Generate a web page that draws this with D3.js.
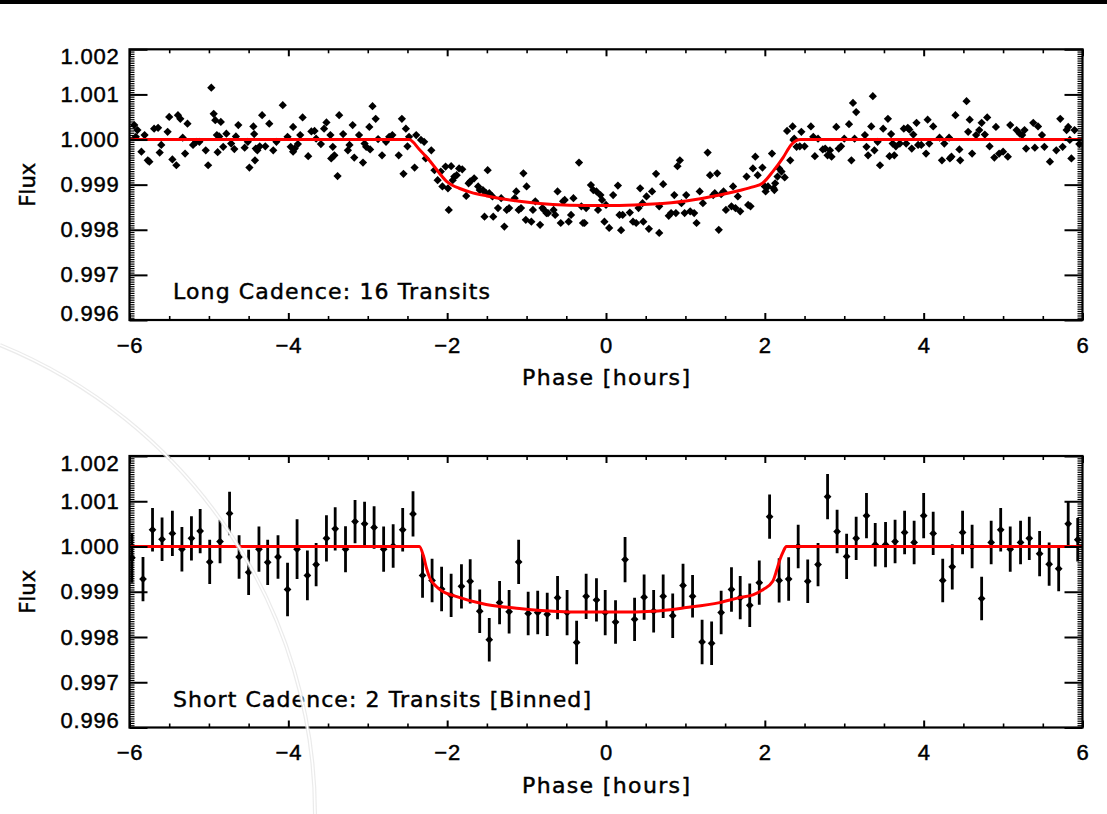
<!DOCTYPE html>
<html>
<head>
<meta charset="utf-8">
<script src="https://cdn.jsdelivr.net/npm/d3@7"></script>
<style>
  html, body { margin: 0; padding: 0; background: #fff; }
  svg { display: block; font-family: "DejaVu Sans", sans-serif; }
</style>
</head>
<body>
<svg id="chart" width="1107" height="814"></svg>
<script>
// Long cadence, phase-folded (16 transits)
const longPhase = [
  -5.94,-5.90,-5.92,-5.85,-5.81,-5.77,-5.75,-5.69,-5.64,-5.62,
  -5.60,-5.52,-5.50,-5.46,-5.41,-5.39,-5.36,-5.33,-5.30,-5.27,
  -5.20,-5.16,-5.12,-5.04,-5.01,-4.97,-4.94,-4.92,-4.90,-4.89,
  -4.87,-4.85,-4.82,-4.78,-4.72,-4.68,-4.66,-4.63,-4.55,-4.51,
  -4.49,-4.44,-4.43,-4.42,-4.41,-4.39,-4.36,-4.33,-4.29,-4.24,
  -4.19,-4.15,-4.07,-4.01,-3.97,-3.94,-3.94,-3.92,-3.88,-3.85,
  -3.82,-3.75,-3.71,-3.67,-3.65,-3.59,-3.55,-3.52,-3.47,-3.46,
  -3.44,-3.42,-3.38,-3.36,-3.31,-3.25,-3.23,-3.19,-3.17,-3.11,
  -3.06,-3.04,-3.02,-2.98,-2.97,-2.94,-2.90,-2.87,-2.82,-2.77,
  -2.73,-2.69,-2.61,-2.57,-2.55,-2.52,-2.50,-2.48,-2.41,-2.39,
  -2.33,-2.29,-2.27,-2.20,-2.16,-2.12,-2.08,-2.06,-2.02,-1.99,
  -1.98,-1.95,-1.93,-1.91,-1.88,-1.85,-1.81,-1.76,-1.73,-1.71,
  -1.66,-1.61,-1.59,-1.55,-1.53,-1.51,-1.49,-1.47,-1.43,-1.42,
  -1.36,-1.32,-1.28,-1.25,-1.22,-1.15,-1.13,-1.10,-1.07,-1.04,
  -1.01,-1.00,-0.94,-0.92,-0.89,-0.83,-0.80,-0.78,-0.75,-0.73,
  -0.66,-0.64,-0.61,-0.57,-0.54,-0.52,-0.47,-0.44,-0.41,-0.34,
  -0.31,-0.29,-0.27,-0.25,-0.19,-0.16,-0.12,-0.10,-0.07,-0.05,
  -0.02, 0.00, 0.04, 0.09, 0.15, 0.17, 0.19, 0.21, 0.30, 0.34,
   0.38, 0.41, 0.43, 0.46, 0.47, 0.51, 0.54, 0.58, 0.63, 0.67,
   0.67, 0.72, 0.79, 0.82, 0.86, 0.88, 0.90, 0.93, 0.95, 0.99,
   1.01, 1.06, 1.11, 1.14, 1.18, 1.22, 1.28, 1.31, 1.35, 1.37,
   1.40, 1.42, 1.45, 1.48, 1.51, 1.58, 1.60, 1.63, 1.66, 1.69,
   1.77, 1.79, 1.82, 1.85, 1.88, 1.91,
   1.97, 2.00, 2.01, 2.04, 2.09, 2.11, 2.12, 2.13, 2.16, 2.18,
   2.21, 2.25, 2.28, 2.32, 2.35, 2.36, 2.37, 2.40, 2.44, 2.46,
   2.50, 2.58, 2.61, 2.63, 2.67, 2.73, 2.76, 2.79, 2.82, 2.84,
   2.90, 2.93, 2.96, 3.00, 3.06, 3.09, 3.11, 3.13, 3.15, 3.26,
   3.28, 3.30, 3.34, 3.36, 3.38, 3.42, 3.45, 3.49, 3.55, 3.57,
   3.59, 3.61, 3.63, 3.65, 3.70, 3.75, 3.78, 3.80, 3.82, 3.85,
   3.87, 3.91, 3.93, 3.97, 4.03, 4.05, 4.07, 4.12, 4.20, 4.23,
   4.26, 4.32, 4.33, 4.35, 4.40, 4.45, 4.46, 4.54, 4.56, 4.58,
   4.61, 4.66, 4.70, 4.73, 4.77, 4.80, 4.83, 4.89, 4.91, 4.95,
   5.00, 5.06, 5.09, 5.17, 5.21, 5.24, 5.27, 5.29, 5.38, 5.40,
   5.44, 5.49, 5.52, 5.59, 5.67, 5.72, 5.75, 5.80, 5.82, 5.84,
   5.86, 5.90, 5.96
];
const longFlux = [
  1.00032,1.00021,1.00006,0.99973,1.00010,0.99954,0.99951,1.00024,1.00026,0.99971,
  0.99988,1.00017,1.00050,0.99956,0.99943,1.00054,1.00046,1.00004,0.99969,1.00035,
  0.99988,0.99995,0.99995,0.99976,0.99943,1.00115,1.00057,1.00043,1.00010,0.99972,
  1.00007,1.00039,0.99984,1.00013,0.99991,0.99979,1.00007,1.00032,0.99982,0.99995,
  0.99938,1.00029,1.00012,0.99954,0.99980,0.99976,0.99985,1.00054,0.99985,1.00035,
  0.99976,0.99995,1.00076,1.00006,0.99984,1.00028,0.99973,0.99980,0.99990,1.00010,
  1.00049,0.99963,1.00018,1.00019,1.00002,0.99990,1.00024,1.00038,1.00010,0.99958,
  0.99984,0.99965,0.99919,1.00054,1.00012,0.99976,0.99988,1.00032,0.99960,1.00010,
  0.99949,0.99991,0.99984,1.00028,0.99978,1.00074,1.00046,1.00001,0.99965,0.99995,
  1.00006,1.00010,0.99965,1.00046,0.99924,1.00024,0.99985,1.00006,0.99938,1.00010,
  0.99999,0.99995,0.99958,0.99976,0.99932,0.99910,0.99929,0.99896,0.99940,0.99892,
  0.99844,0.99941,0.99910,0.99918,0.99921,0.99936,0.99934,0.99875,0.99903,0.99907,
  0.99914,0.99896,0.99888,0.99888,0.99829,0.99881,0.99932,0.99881,0.99874,0.99829,
  0.99848,0.99870,0.99807,0.99844,0.99848,0.99870,0.99885,0.99844,0.99848,0.99925,
  0.99822,0.99896,0.99818,0.99844,0.99863,0.99811,0.99848,0.99844,0.99837,0.99837,
  0.99844,0.99833,0.99885,0.99815,0.99863,0.99866,0.99818,0.99833,0.99870,0.99949,
  0.99852,0.99815,0.99815,0.99848,0.99899,0.99888,0.99885,0.99844,0.99877,0.99866,
  0.99818,0.99855,0.99804,0.99877,0.99898,0.99833,0.99799,0.99833,0.99838,0.99818,
  0.99815,0.99848,0.99892,0.99859,0.99818,0.99874,0.99802,0.99885,0.99924,0.99852,
  0.99793,0.99901,0.99831,0.99837,0.99877,0.99837,0.99941,0.99954,0.99859,0.99837,
  0.99877,0.99841,0.99837,0.99815,0.99885,0.99859,0.99971,0.99921,0.99877,0.99881,
  0.99925,0.99800,0.99879,0.99885,0.99844,0.99852,0.99896,0.99848,0.99874,0.99841,
  0.99918,0.99855,0.99852,0.99936,0.99962,0.99921,
  0.99938,0.99896,0.99885,0.99896,0.99969,0.99892,0.99888,0.99903,0.99918,0.99936,
  0.99929,0.99916,1.00019,0.99954,1.00029,0.99999,1.00002,0.99984,0.99985,1.00017,
  0.99985,1.00029,1.00006,0.99963,1.00002,0.99978,0.99980,0.99965,0.99976,0.99962,
  1.00028,0.99980,0.99985,1.00002,1.00034,0.99954,1.00081,1.00002,1.00061,1.00010,
  0.99984,0.99965,1.00029,1.00096,0.99976,0.99995,0.99943,1.00024,1.00046,0.99963,
  1.00012,0.99991,0.99965,0.99985,0.99991,1.00024,0.99991,1.00026,1.00022,0.99980,
  1.00011,1.00037,0.99988,0.99988,0.99969,1.00044,0.99991,1.00029,1.00004,0.99954,
  0.99991,1.00004,0.99958,0.99962,1.00054,0.99978,0.99954,1.00085,1.00017,1.00044,
  0.99969,1.00010,1.00021,1.00037,1.00011,1.00049,0.99985,0.99960,1.00028,0.99969,
  0.99973,0.99962,1.00032,1.00021,1.00013,1.00010,1.00021,0.99980,1.00037,0.99982,
  1.00029,1.00010,0.99984,0.99951,0.99976,1.00046,0.99984,1.00021,1.00028,0.99999,
  0.99958,1.00021,0.99990
];
const longModelPhase = [-6, -2.48, -2.35, -2.22, -2.10, -2.00, -1.93, -1.85, -1.70, -1.50, -1.09, -0.67, -0.25, 0.17, 0.59, 1.01, 1.43, 1.68, 1.85, 1.97, 2.10, 2.23, 2.33, 2.40, 2.45, 6];
const longModelFlux  = [1, 1, 0.99978, 0.99953, 0.99926, 0.99906, 0.99898, 0.99892, 0.99883, 0.99875, 0.99863, 0.99856, 0.99854, 0.99854, 0.99857, 0.99864, 0.99877, 0.99887, 0.99895, 0.99903, 0.99929, 0.99960, 0.99988, 0.99998, 1, 1];

// Short cadence, binned (2 transits)
const shortPhase = [
  -5.97,-5.83,-5.71,-5.59,-5.46,-5.34,-5.22,-5.11,-4.99,-4.86,
  -4.74,-4.62,-4.50,-4.37,-4.26,-4.13,-4.01,-3.89,-3.76,-3.65,
  -3.52,-3.41,-3.28,-3.16,-3.04,-2.92,-2.80,-2.68,-2.56,-2.43,
  -2.31,-2.19,-2.07,-1.95,-1.82,-1.71,-1.59,-1.47,-1.34,-1.22,
  -1.10,-0.98,-0.86,-0.74,-0.61,-0.49,-0.37,-0.25,-0.12,-0.01,
   0.12, 0.24, 0.36, 0.48, 0.60, 0.72, 0.84, 0.97, 1.09, 1.21,
   1.33, 1.45, 1.58, 1.69, 1.81, 1.93, 2.06, 2.18, 2.30, 2.42,
   2.54, 2.67, 2.79, 2.91, 3.03, 3.15, 3.28, 3.39, 3.52, 3.64,
   3.76, 3.88, 4.00, 4.12, 4.24, 4.36, 4.49, 4.61, 4.73, 4.85,
   4.97, 5.09, 5.22, 5.33, 5.46, 5.58, 5.70, 5.82, 5.94
];
const shortFlux = [
  0.99975,0.99928,1.00037,1.00016,1.00029,0.99994,1.00018,1.00034,0.99966,1.00011,
  1.00073,0.99977,0.99943,0.99994,0.99965,0.99977,0.99905,0.99994,0.99936,0.99960,
  1.00018,1.00039,0.99994,1.00055,1.00050,1.00042,0.99994,1.00001,1.00037,1.00072,
  0.99936,0.99925,0.99906,0.99892,0.99912,0.99923,0.99857,0.99794,0.99876,0.99856,
  0.99966,0.99852,0.99854,0.99850,0.99887,0.99854,0.99788,0.99890,0.99882,0.99854,
  0.99833,0.99971,0.99839,0.99888,0.99857,0.99890,0.99847,0.99914,0.99890,0.99789,
  0.99786,0.99854,0.99905,0.99887,0.99870,0.99920,1.00066,0.99925,0.99928,1.00000,
  0.99923,0.99960,1.00110,1.00033,0.99978,1.00018,1.00068,1.00004,1.00004,1.00011,
  1.00031,1.00009,1.00068,1.00029,0.99925,0.99955,1.00031,1.00000,0.99885,1.00009,
  1.00037,0.99994,1.00009,1.00018,0.99984,0.99961,0.99951,1.00050,1.00015
];
const shortErr = [
  0.00055,0.00049,0.00048,0.00048,0.00050,0.00049,0.00049,0.00049,0.00049,0.00048,
  0.00048,0.00048,0.00050,0.00050,0.00050,0.00048,0.00059,0.00066,0.00055,0.00048,
  0.00051,0.00048,0.00051,0.00048,0.00049,0.00047,0.00050,0.00048,0.00048,0.00050,
  0.00049,0.00048,0.00049,0.00048,0.00049,0.00049,0.00048,0.00048,0.00048,0.00048,
  0.00049,0.00048,0.00048,0.00048,0.00048,0.00050,0.00048,0.00050,0.00048,0.00050,
  0.00048,0.00050,0.00048,0.00050,0.00047,0.00048,0.00049,0.00048,0.00047,0.00049,
  0.00048,0.00048,0.00049,0.00048,0.00048,0.00049,0.00049,0.00049,0.00048,0.00048,
  0.00048,0.00048,0.00050,0.00048,0.00050,0.00048,0.00050,0.00048,0.00050,0.00048,
  0.00048,0.00048,0.00050,0.00048,0.00048,0.00050,0.00048,0.00048,0.00048,0.00048,
  0.00048,0.00050,0.00048,0.00048,0.00050,0.00048,0.00050,0.00050,0.00048
];
const shortModelPhase = [-6, -2.35, -2.30, -2.26, -2.22, -2.14, -2.05, -1.93, -1.51, -1.09, -0.67, -0.25, 0.17, 0.59, 1.01, 1.43, 1.68, 1.85, 1.98, 2.10, 2.15, 2.19, 2.23, 2.27, 6];
const shortModelFlux  = [1, 1, 0.99980, 0.99952, 0.99931, 0.99912, 0.99900, 0.99892, 0.99872, 0.99863, 0.99857, 0.99855, 0.99855, 0.99857, 0.99865, 0.99876, 0.99887, 0.99893, 0.99905, 0.99923, 0.99948, 0.99971, 0.99988, 1, 1];

const xTicks = [-6, -4, -2, 0, 2, 4, 6];
const yTicks = [0.996, 0.997, 0.998, 0.999, 1.000, 1.001, 1.002];
const panelLabels = ["Long Cadence: 16 Transits", "Short Cadence: 2 Transits [Binned]"];
const xTitle = "Phase [hours]";
const yTitle = "Flux";

const svg = d3.select("#chart");
const plotLeft = 129.5, plotRight = 1082.5;

// black strip along the top edge
svg.append("rect").attr("x", 0).attr("y", 0).attr("width", 1107).attr("height", 4).attr("fill", "#000");

const x = d3.scaleLinear().domain([-6, 6]).range([plotLeft, plotRight]);
const xMinor = d3.range(-12, 13).map(i => i / 2).filter(v => !xTicks.includes(v));
const yMinor = d3.range(0, 121).map(i => Math.round((0.996 + i * 0.00005) * 1e6) / 1e6)
  .filter(v => !yTicks.some(t => Math.abs(t - v) < 1e-9));

const fmtX = d => d < 0 ? "\u2212" + (-d) : String(d);

// heavier-looking text, closer to the original plotting font
const inkText = sel => sel.attr("fill", "#000").attr("stroke", "#000").attr("stroke-width", 0.45);

const panels = [
  { top: 49.3, bottom: 320, label: panelLabels[0], textLen: 317,
    phase: longPhase, flux: longFlux, err: null, mPhase: longModelPhase, mFlux: longModelFlux },
  { top: 456, bottom: 727.5, label: panelLabels[1], textLen: 418,
    phase: shortPhase, flux: shortFlux, err: shortErr, mPhase: shortModelPhase, mFlux: shortModelFlux }
];

panels.forEach((p, k) => {
  const y = d3.scaleLinear().domain([0.996, 1.002]).range([p.bottom, p.top]);
  const g = svg.append("g");
  const clipId = "clip" + k;
  g.append("clipPath").attr("id", clipId).append("rect")
    .attr("x", plotLeft).attr("y", p.top)
    .attr("width", plotRight - plotLeft).attr("height", p.bottom - p.top);

  const plot = g.append("g").attr("clip-path", `url(#${clipId})`);

  // error bars
  if (p.err) {
    plot.selectAll(".err")
      .data(p.phase.map((v, i) => [v, p.flux[i], p.err[i]]))
      .enter().append("line")
      .attr("x1", d => x(d[0])).attr("x2", d => x(d[0]))
      .attr("y1", d => y(d[1] - d[2])).attr("y2", d => y(d[1] + d[2]))
      .attr("stroke", "#000").attr("stroke-width", 2.8);
  }

  // diamonds
  const sym = d3.symbol().type(d3.symbolSquare).size(p.err ? 30 : 34);
  plot.selectAll(".pt")
    .data(p.phase.map((v, i) => [v, p.flux[i]]))
    .enter().append("path")
    .attr("d", sym)
    .attr("transform", d => `translate(${x(d[0])},${y(d[1])}) rotate(45)`)
    .attr("fill", "#000");

  // model
  const line = d3.line().x(d => x(d[0])).y(d => y(d[1])).curve(d3.curveMonotoneX);
  plot.append("path")
    .datum(p.mPhase.map((v, i) => [v, p.mFlux[i]]))
    .attr("fill", "none").attr("stroke", "#ff0000").attr("stroke-width", 3)
    .attr("d", line);

  // axes (IDL style, ticks pointing in)
  const styleAxis = (sel, w) => {
    sel.select(".domain").remove();
    sel.selectAll(".tick line").attr("stroke-width", w);
    sel.selectAll("text").attr("font-size", 22).attr("letter-spacing", "0.8px").call(inkText);
  };
  g.append("g").attr("transform", `translate(0,${p.bottom})`)
    .call(d3.axisBottom(x).tickValues(xTicks).tickSize(-7).tickPadding(17).tickFormat(fmtX))
    .call(s => styleAxis(s, 2));
  g.append("g").attr("transform", `translate(0,${p.bottom})`)
    .call(d3.axisBottom(x).tickValues(xMinor).tickSize(-4).tickFormat(""))
    .call(s => styleAxis(s, 1.6));
  g.append("g").attr("transform", `translate(0,${p.top})`)
    .call(d3.axisTop(x).tickValues(xTicks).tickSize(-7).tickFormat(""))
    .call(s => styleAxis(s, 2));
  g.append("g").attr("transform", `translate(0,${p.top})`)
    .call(d3.axisTop(x).tickValues(xMinor).tickSize(-4).tickFormat(""))
    .call(s => styleAxis(s, 1.6));

  const yl = g.append("g").attr("transform", `translate(${plotLeft},0)`)
    .call(d3.axisLeft(y).tickValues(yTicks).tickSize(-18).tickPadding(10).tickFormat(d3.format(".3f")))
    .call(s => styleAxis(s, 2));
  yl.selectAll("text")
    .attr("transform", d => d === 1.002 ? "translate(0,7)" : d === 0.996 ? "translate(0,-7)" : null);
  g.append("g").attr("transform", `translate(${plotLeft},0)`)
    .call(d3.axisLeft(y).tickValues(yMinor).tickSize(-5).tickFormat(""))
    .call(s => styleAxis(s, 1.2));
  g.append("g").attr("transform", `translate(${plotRight},0)`)
    .call(d3.axisRight(y).tickValues(yTicks).tickSize(-18).tickFormat(""))
    .call(s => styleAxis(s, 2));
  g.append("g").attr("transform", `translate(${plotRight},0)`)
    .call(d3.axisRight(y).tickValues(yMinor).tickSize(-5).tickFormat(""))
    .call(s => styleAxis(s, 1.2));

  // frame
  g.append("rect")
    .attr("x", plotLeft).attr("y", p.top)
    .attr("width", plotRight - plotLeft).attr("height", p.bottom - p.top)
    .attr("fill", "none").attr("stroke", "#000").attr("stroke-width", 2.2);

  // panel annotation
  g.append("text")
    .attr("x", 173).attr("y", p.bottom - 21)
    .attr("font-size", 22)
    .attr("textLength", p.textLen).attr("lengthAdjust", "spacing")
    .call(inkText)
    .text(p.label);

  // axis titles
  g.append("text")
    .attr("x", (plotLeft + plotRight) / 2).attr("y", p.bottom + 65)
    .attr("text-anchor", "middle").attr("font-size", 22)
    .attr("textLength", 168).attr("lengthAdjust", "spacing")
    .call(inkText)
    .text(xTitle);
  g.append("text")
    .attr("transform", `translate(35,${(p.top + p.bottom) / 2}) rotate(-90)`)
    .attr("text-anchor", "middle").attr("font-size", 21)
    .call(inkText)
    .text(yTitle);
});

// faint grey arc over the lower-left corner
const arcPath = "M0,345 A507,507 0 0,1 315,814";
svg.append("path").attr("d", arcPath).attr("fill", "none")
  .attr("stroke", "#e2e2e2").attr("stroke-width", 4).attr("opacity", 0.7);
svg.append("path").attr("d", arcPath).attr("fill", "none")
  .attr("stroke", "#fff").attr("stroke-width", 1.6);
</script>
</body>
</html>
